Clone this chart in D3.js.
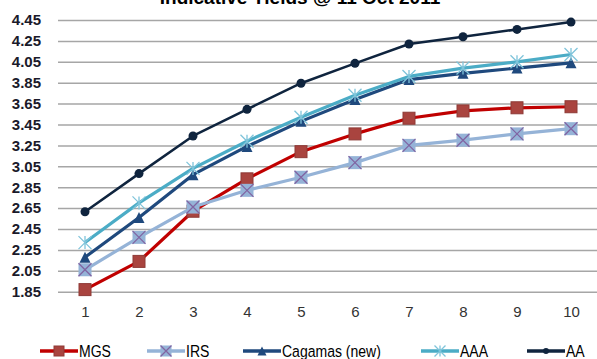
<!DOCTYPE html>
<html><head><meta charset="utf-8">
<script src="https://cdn.jsdelivr.net/npm/d3@7/dist/d3.min.js"></script>
<style>body{margin:0;background:#fff}svg{display:block}</style>
</head><body><svg id="c" width="597" height="359"></svg>
<script>
const title = "Indicative Yields @ 11 Oct 2011";
const categories = ["1","2","3","4","5","6","7","8","9","10"];
const yTicks = [1.85,2.05,2.25,2.45,2.65,2.85,3.05,3.25,3.45,3.65,3.85,4.05,4.25,4.45];
const seriesNames = ["MGS","IRS","Cagamas (new)","AAA","AA"];
const mgs     = [1.87,2.14,2.62,2.93,3.19,3.36,3.51,3.58,3.61,3.62];
const irs     = [2.06,2.37,2.66,2.82,2.945,3.085,3.25,3.30,3.36,3.41];
const cagamas = [2.18,2.56,2.97,3.24,3.48,3.69,3.88,3.94,3.99,4.04];
const aaa     = [2.32,2.70,3.03,3.29,3.52,3.73,3.91,3.99,4.05,4.12];
const aa      = [2.615,2.98,3.34,3.595,3.845,4.035,4.22,4.29,4.36,4.43];

const styles = [
  {line:"#c00000", marker:"square", fill:"#a9443f", stroke:"#8e3a36", size:12},
  {line:"#95b3d7", marker:"x", fill:"#95b3d7", stroke:"#8064a2", size:13},
  {line:"#1f497d", marker:"triangle", fill:"#1f497d", stroke:"#1f497d", size:11},
  {line:"#4bacc6", marker:"star", fill:"#4bacc6", stroke:"#7fc4da", size:13},
  {line:"#0f243e", marker:"circle", fill:"#0f243e", stroke:"#0f243e", size:9}
];
const allSeries = [mgs, irs, cagamas, aaa, aa];

const svg = d3.select("#c");
const x = d3.scalePoint().domain(categories).range([58, 598]).padding(0.5);
const y = d3.scaleLinear().domain([1.85, 4.45]).range([291.7, 20]);

// title
svg.append("text").attr("x", 300).attr("y", 4).attr("text-anchor","middle")
  .attr("font-family","Liberation Sans, Arial, sans-serif").attr("font-weight","bold")
  .attr("font-size", 19).attr("fill","#000").text(title);

// gridlines
const yAxis = d3.axisLeft(y).tickValues(yTicks).tickFormat(d3.format(".2f"))
  .tickSize(-(597-58)).tickPadding(17);
const gy = svg.append("g").attr("transform","translate(58,0)").call(yAxis);
gy.select(".domain").remove();
gy.selectAll(".tick line").attr("stroke","#a6a6a6").attr("stroke-width",1.5);
gy.selectAll(".tick text").attr("font-family","Liberation Sans, Arial, sans-serif")
  .attr("font-weight","bold").attr("font-size",15).attr("fill","#1a1a2a");

// x axis labels
const xAxis = d3.axisBottom(x).tickSize(0).tickPadding(0);
const gx = svg.append("g").attr("transform","translate(0,312)").call(xAxis);
gx.select(".domain").remove();
gx.selectAll(".tick text").attr("font-family","Liberation Sans, sans-serif")
  .attr("font-size",15).attr("fill","#333").attr("dy","0.35em");

function drawMarker(g, st, cx, cy){
  const s = st.size;
  if (st.marker === "square") {
    g.append("rect").attr("x",cx-s/2).attr("y",cy-s/2).attr("width",s).attr("height",s)
      .attr("fill",st.fill).attr("stroke",st.stroke).attr("stroke-width",1);
  } else if (st.marker === "x") {
    g.append("rect").attr("x",cx-s/2).attr("y",cy-s/2).attr("width",s).attr("height",s)
      .attr("fill",st.fill);
    const h = s/2;
    g.append("path").attr("d",`M${cx-h},${cy-h}L${cx+h},${cy+h}M${cx-h},${cy+h}L${cx+h},${cy-h}`)
      .attr("stroke",st.stroke).attr("stroke-width",1.3).attr("fill","none");
  } else if (st.marker === "triangle") {
    const h = s/2;
    g.append("path").attr("d",`M${cx},${cy-h}L${cx+h},${cy+h}L${cx-h},${cy+h}Z`).attr("fill",st.fill);
  } else if (st.marker === "star") {
    const h = s/2;
    g.append("path").attr("d",
      `M${cx-h},${cy-h}L${cx+h},${cy+h}M${cx-h},${cy+h}L${cx+h},${cy-h}M${cx},${cy-h}L${cx},${cy+h}`)
      .attr("stroke",st.stroke).attr("stroke-width",1.3).attr("fill","none");
  } else if (st.marker === "circle") {
    g.append("circle").attr("cx",cx).attr("cy",cy).attr("r",s/2).attr("fill",st.fill);
  }
}

const line = d3.line().x((d,i)=>x(categories[i])).y(d=>y(d));
allSeries.forEach((vals, si) => {
  const st = styles[si];
  const g = svg.append("g");
  g.append("path").datum(vals).attr("d", line).attr("fill","none")
    .attr("stroke", st.line).attr("stroke-width", si===4 ? 2.5 : 3.2).attr("stroke-linejoin","round");
  vals.forEach((v,i) => drawMarker(g, st, x(categories[i]), y(v)));
});

// legend
const legendX = [40, 147, 243, 421, 527];
const legendY = 351;
seriesNames.forEach((name, si) => {
  const st = styles[si];
  const g = svg.append("g");
  const lx = legendX[si], lw = 38;
  g.append("line").attr("x1",lx).attr("x2",lx+lw).attr("y1",legendY).attr("y2",legendY)
    .attr("stroke",st.line).attr("stroke-width",3.5);
  drawMarker(g, Object.assign({}, st, {size: si===4 ? 6 : st.size-2}), lx+lw/2, legendY);
  g.append("text")
    .attr("transform", `translate(${lx+lw+1},${legendY}) scale(0.85,1)`)
    .attr("dy","0.35em")
    .attr("font-family","Liberation Sans, Arial, sans-serif")
    .attr("font-size",16.5).attr("fill","#000").text(name);
});
</script></body></html>
